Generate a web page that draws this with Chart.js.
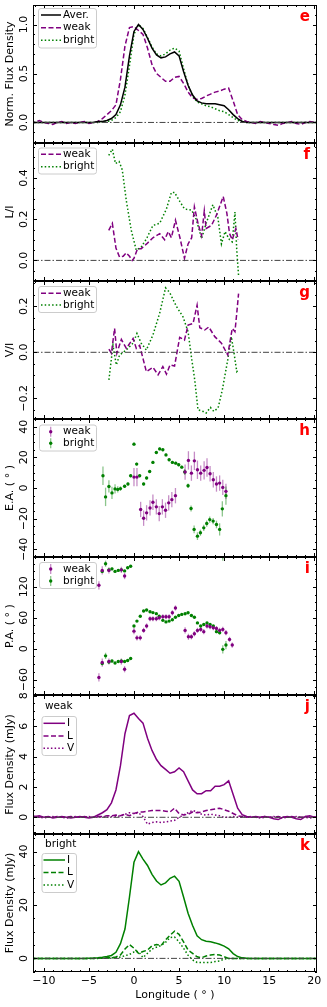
<!DOCTYPE html>
<html>
<head>
<meta charset="utf-8">
<title>Pulse profiles</title>
<script src="https://cdn.jsdelivr.net/npm/chart.js@4.4.1/dist/chart.umd.min.js"></script>
<style>
  body { margin: 0; background: #ffffff; }
  #wrap { position: relative; width: 327px; height: 1007px; overflow: hidden; }
  #wrap canvas { position: absolute; left: 0; }
</style>
</head>
<body>
<div id="wrap"></div>
<script>
// ---------------- DATA ----------------
// longitude grid (deg) for the profiles
const lonGrid = [
  -11.5, -11, -10.5, -10, -9.5, -9, -8.5, -8, -7.5, -7,
  -6.5, -6, -5.5, -5, -4.5, -4, -3.5, -3, -2.5, -2,
  -1.5, -1, -0.5, 0, 0.5, 1, 1.5, 2, 2.5, 3,
  3.5, 4, 4.5, 5, 5.5, 6, 6.5, 7, 7.5, 8,
  8.5, 9, 9.5, 10, 10.5, 11, 11.5, 12, 12.5, 13,
  13.5, 14, 14.5, 15, 15.5, 16, 16.5, 17, 17.5, 18,
  18.5, 19, 19.5, 20, 20.5
];

// panel e: normalised profiles
const normAver = [
  0, 0, 0, 0, 0, 0, 0, 0, 0, 0,
  0, 0, 0, 0, 0, 0.01, 0.01, 0.02, 0.04, 0.08,
  0.18, 0.36, 0.68, 0.93, 1.0, 0.95, 0.86, 0.76, 0.69, 0.66,
  0.67, 0.70, 0.72, 0.68, 0.52, 0.38, 0.28, 0.22, 0.20, 0.19,
  0.19, 0.19, 0.18, 0.17, 0.13, 0.08, 0.04, 0.01, 0, 0,
  0, 0, 0, 0, 0, 0, 0, 0, 0, 0,
  0, 0, 0, 0, 0
];
const normWeak = [
  0.01, 0.0, 0.02, 0.0, -0.01, -0.02, 0.0, 0.01, -0.01, 0.0,
  -0.01, 0.0, 0.01, -0.01, 0.0, 0.01, 0.04, 0.08, 0.12, 0.18,
  0.44, 0.78, 0.97, 0.98, 0.94, 0.90, 0.76, 0.59, 0.50, 0.46,
  0.42, 0.42, 0.46, 0.47, 0.40, 0.31, 0.25, 0.235, 0.245, 0.27,
  0.29, 0.31, 0.32, 0.34, 0.35, 0.22, 0.08, 0.03, 0.01, 0.0,
  -0.01, 0.01, 0.0, -0.01, -0.02, -0.03, -0.01, 0.0, 0.01, -0.01,
  -0.02, 0.0, 0.01, 0.0, 0.01
];
const normBright = [
  0, 0, 0, 0, 0, 0, 0, 0, 0, 0,
  0, 0, 0, 0, 0, 0, 0.01, 0.01, 0.02, 0.05,
  0.11, 0.28, 0.58, 0.90, 1.0, 0.96, 0.87, 0.77, 0.70, 0.68,
  0.70, 0.74, 0.76, 0.73, 0.55, 0.38, 0.27, 0.21, 0.19, 0.17,
  0.16, 0.14, 0.12, 0.11, 0.08, 0.05, 0.02, 0.01, 0, 0,
  0, 0, 0, 0, 0, 0, 0, 0, 0, 0,
  0, 0, 0, 0, 0
];

// panel f: L/I
const fWeakLon = [-2.8, -2.4, -2.0, -1.6, -1.2, -0.85, -0.5, -0.2, 0.0, 0.4, 0.8, 1.4, 2.1, 2.85, 3.4, 3.8, 4.15, 4.6, 5.1, 5.6, 6.0, 6.4, 6.7, 7.1, 7.5, 7.8, 8.0, 8.6, 9.15, 9.9, 10.3, 10.6, 10.9, 11.3, 11.55];
const fWeakVal = [0.146, 0.18, 0.06, 0.016, 0.02, 0.037, 0.02, 0.0, 0.01, 0.057, 0.057, 0.08, 0.11, 0.13, 0.10, 0.14, 0.11, 0.195, 0.11, 0.01, 0.08, 0.11, 0.26, 0.18, 0.12, 0.24, 0.155, 0.17, 0.22, 0.31, 0.23, 0.13, 0.10, 0.155, 0.10];
const fBrightLon = [-2.8, -2.4, -2.05, -1.65, -1.3, -0.85, -0.3, 0.25, 0.8, 1.4, 2.1, 2.85, 3.6, 4.15, 4.5, 5.1, 5.6, 6.4, 6.9, 7.5, 8.0, 8.75, 9.3, 9.7, 10.1, 10.6, 10.9, 11.2, 11.4, 11.6];
const fBrightVal = [0.51, 0.54, 0.47, 0.48, 0.44, 0.29, 0.146, 0.05, 0.065, 0.106, 0.17, 0.18, 0.25, 0.33, 0.33, 0.285, 0.25, 0.244, 0.20, 0.106, 0.18, 0.27, 0.21, 0.08, 0.14, 0.10, 0.09, 0.235, 0.05, -0.073];

// panel g: V/I
const gWeakLon = [-2.78, -2.5, -2.15, -1.9, -1.4, -0.85, -0.1, 0.26, 0.63, 1.37, 2.1, 2.67, 3.2, 3.6, 4.0, 4.5, 5.07, 5.6, 6.0, 6.55, 7.0, 7.3, 7.85, 8.3, 8.96, 9.7, 10.4, 10.9, 11.2, 11.4, 11.6];
const gWeakVal = [0.014, -0.004, 0.104, -0.004, 0.056, 0.017, 0.06, 0.017, 0.03, -0.084, -0.065, -0.098, -0.062, -0.095, -0.055, -0.06, 0.065, 0.053, 0.118, 0.125, 0.205, 0.107, 0.097, 0.11, 0.068, 0.04, -0.012, 0.104, 0.09, 0.17, 0.255];
const gBrightLon = [-2.78, -2.33, -1.96, -1.6, -0.85, -0.1, 0.33, 0.8, 1.37, 2.1, 2.85, 3.5, 3.96, 4.7, 5.44, 6.0, 6.37, 6.74, 7.1, 7.67, 8.0, 8.48, 8.85, 9.33, 9.8, 10.4, 10.8, 11.1, 11.4, 11.6];
const gBrightVal = [-0.12, 0.03, -0.055, -0.012, 0.01, 0.04, 0.082, 0.04, 0.01, 0.075, 0.17, 0.28, 0.26, 0.2, 0.154, 0.09, -0.02, -0.12, -0.25, -0.257, -0.264, -0.24, -0.257, -0.242, -0.163, -0.033, 0.068, -0.004, -0.084, -0.076];

// panel h: ellipticity angle (deg) with errors
const eaWeakLon = [0, 0.33, 0.74, 1.07, 1.4, 1.78, 2.1, 2.48, 2.8, 3.15, 3.5, 3.85, 4.2, 4.6, 5.67, 6.04, 6.37, 6.7, 7.04, 7.4, 7.78, 8.1, 8.44, 8.8, 9.15, 9.5, 9.85, 10.2];
const eaWeakVal = [7.1, 7.1, -14, -19.7, -16.2, -13, -9.3, -12.3, -16.7, -12.3, -14.5, -9.7, -7.6, -5, 10.4, 18, 9.7, 17.7, 11.9, 9.7, 11.5, 13.4, 9.3, 5.4, 2.6, 3.2, 0.4, -2.2];
const eaWeakErr = [6, 6, 5, 5, 5, 5, 5, 5, 5, 5, 5, 5, 5, 5, 5, 6, 5, 6, 6, 5, 6, 6, 5, 5, 5, 5, 5, 5];
const eaBrightLon = [-3.44, -3.15, -2.78, -2.44, -2.1, -1.8, -1.5, -1.04, -0.67, -0.37, 0, 0.3, 0.63, 1.07, 1.4, 1.74, 2.1, 2.48, 2.85, 3.2, 3.55, 3.9, 4.26, 4.63, 4.96, 5.3, 5.63, 6.0, 6.33, 6.67, 7.04, 7.37, 7.74, 8.07, 8.4, 8.78, 9.15, 9.5, 9.8, 10.2];
const eaBrightVal = [8, -5.8, 1, -3.2, -0.6, -0.9, -0.4, 1.1, 2.6, 8, 28.6, 15.6, 8, 2.6, 6.5, 10.8, 16.7, 23.2, 25.5, 24.9, 21.6, 18.4, 16.7, 16.2, 15.2, 13.6, 10.4, 1.5, -13.4, -27, -31.4, -29.2, -26, -23.2, -20.6, -21.6, -23.8, -27, -13.6, -5];
const eaBrightErr = [6, 6, 4, 4, 3, 2, 1.5, 1, 1, 1, 1, 1, 1, 1, 1, 1, 1, 1, 1, 1, 1, 1, 1, 1, 1, 1, 2, 1.5, 2, 2.5, 2.5, 2, 2, 2, 2, 2, 2.5, 4, 5, 6];

// panel i: position angle (deg) with errors, both branches as plotted
const paWeakLon = [-3.89, -3.52, -2.78, -1.4, -1.04, -3.89, -3.52, -2.78, -1.4, -1.04, 0, 0.33, 0.7, 1.07, 1.4, 1.78, 2.1, 2.48, 2.8, 3.2, 3.55, 3.9, 4.26, 4.6, 5.67, 6.04, 6.37, 6.7, 7.04, 7.4, 7.74, 8.1, 8.44, 8.8, 9.15, 9.5, 9.85, 10.2, 10.6, 10.9];
const paWeakVal = [-56, -27, -25, -25, -40, 123, 152, 152, 153, 141, 34, 21, 21, 35.5, 44, 58, 58, 58, 60, 62, 62, 62, 69.7, 79, 35.5, 23, 23, 29, 35.5, 37.4, 33, 44, 42.6, 40.6, 39, 35.5, 37.4, 31, 18, 7];
const paWeakErr = [8, 8, 6, 6, 6, 8, 8, 6, 6, 6, 6, 5, 5, 5, 5, 5, 5, 5, 5, 5, 5, 5, 5, 5, 6, 6, 5, 5, 5, 5, 5, 5, 5, 5, 5, 5, 5, 5, 5, 5];
const paBrightLon = [-3.52, -3.15, -2.78, -2.44, -2.1, -1.74, -1.4, -1.04, -0.7, -0.37, -3.52, -3.15, -2.78, -2.44, -2.1, -1.74, -1.4, -1.04, -0.7, -0.37, 0, 0.33, 0.7, 1.07, 1.4, 1.78, 2.1, 2.48, 2.8, 3.2, 3.55, 3.9, 4.26, 4.6, 4.96, 5.3, 5.67, 6.0, 6.37, 6.7, 7.04, 7.4, 7.74, 8.1, 8.44, 8.8, 9.15, 9.5, 9.85, 10.2, 9.85];
const paBrightVal = [-29, -14, -26, -24, -28, -25, -24, -25, -23, -19, 150, 165, 153, 155, 150, 152, 153, 151, 157, 160, 44, 53.5, 63, 73, 75, 71.6, 70, 68, 63, 55, 52, 53.5, 56, 61, 64.5, 66.5, 67.7, 69.7, 64.5, 61, 50, 44, 47, 50, 47, 44, 33, 31, -1.3, 7, 178.7];
const paBrightErr = [3, 6, 3, 3, 2, 2, 2, 2, 2, 2, 3, 6, 3, 3, 2, 2, 2, 2, 2, 2, 2, 1, 1, 1, 1, 1, 1, 1, 1, 1, 1, 1, 1, 1, 1, 1, 1, 1, 1, 1, 1, 1, 1, 1, 1, 1, 3, 3, 8, 8, 8];

// panel j: weak, flux density (mJy)
const weakI = [
  0.05, 0.05, 0.1, 0.0, 0.05, -0.05, 0.0, 0.05, 0.0, -0.05,
  0.0, 0.05, 0.0, -0.05, 0.0, 0.15, 0.3, 0.5, 0.95, 1.8,
  3.4, 5.5, 6.7, 6.85, 6.5, 6.2, 5.2, 4.4, 3.8, 3.4,
  3.15, 2.9, 3.0, 3.25, 3.0, 2.4, 1.8, 1.55, 1.55, 1.75,
  1.75, 2.05, 2.05, 2.15, 2.4, 1.5, 0.6, 0.17, 0.05, 0.0,
  0.05, 0.0, 0.05, 0.0, -0.1, -0.15, 0.0, 0.05, 0.0, -0.1,
  -0.15, 0.05, 0.1, 0.0, 0.05
];
const weakL = [
  0.0, 0.05, 0.0, 0.05, 0.0, 0.0, 0.05, 0.0, 0.0, 0.05,
  0.0, 0.0, 0.05, 0.0, 0.0, 0.05, 0.05, 0.1, 0.1, 0.15,
  0.1, 0.2, 0.1, 0.25, 0.35, 0.35, 0.4, 0.45, 0.45, 0.45,
  0.4, 0.35, 0.6, 0.25, 0.15, 0.2, 0.35, 0.3, 0.35, 0.45,
  0.5, 0.55, 0.6, 0.5, 0.4, 0.25, 0.1, 0.05, 0.0, 0.05,
  0.0, 0.0, 0.05, 0.0, 0.0, 0.05, 0.0, 0.0, 0.05, 0.0,
  0.0, 0.05, 0.0, 0.0, 0.05
];
const weakV = [
  0.0, 0.05, 0.0, -0.05, 0.0, 0.05, 0.0, 0.0, -0.05, 0.0,
  0.05, 0.0, 0.0, 0.05, 0.0, 0.0, 0.05, 0.0, 0.05, 0.05,
  0.1, 0.2, 0.3, 0.25, 0.3, 0.05, -0.45, -0.35, -0.3, -0.35,
  -0.3, -0.25, -0.2, 0.0, 0.15, 0.3, 0.45, 0.35, 0.2, 0.15,
  0.2, 0.15, 0.1, 0.0, 0.0, 0.05, 0.0, 0.0, 0.05, 0.0,
  0.0, -0.05, 0.0, 0.0, 0.05, 0.0, -0.05, 0.0, 0.0, 0.05,
  0.0, 0.0, -0.05, 0.0, 0.0
];

// panel k: bright, flux density (mJy)
const brightI = [
  0, 0, 0, 0, 0, 0, 0, 0, 0, 0,
  0, 0, 0, 0.05, 0.1, 0.2, 0.4, 0.7, 1.1, 2.3,
  5.5, 11, 23, 36, 40, 37.2, 34.8, 31.5, 29, 27.5,
  28.3, 30, 30.8, 28.9, 23, 16.9, 12.3, 8.5, 7, 6.4,
  6.2, 5.8, 5.3, 4.6, 3.6, 1.8, 0.7, 0.2, 0.05, 0,
  0, 0, 0, 0, 0, 0, 0, 0, 0, 0,
  0, 0, 0, 0, 0
];
const brightL = [
  0, 0, 0, 0, 0, 0, 0, 0, 0, 0,
  0, 0, 0, 0, 0, 0.05, 0.1, 0.2, 0.3, 0.5,
  1.3, 3.5, 5.2, 3.8, 1.9, 2.6, 3.1, 4.7, 5.2, 4.8,
  6.9, 8.7, 10.2, 9.0, 6.2, 3.1, 1.9, 0.6, 0.25, 0.9,
  1.25, 1.5, 1.25, 0.6, 0.0, 0.0, 0, 0, 0, 0,
  0, 0, 0, 0, 0, 0, 0, 0, 0, 0,
  0, 0, 0, 0, 0
];
const brightV = [
  0, 0, 0, 0, 0, 0, 0, 0, 0, 0,
  0, 0, 0, 0, 0, 0, 0.05, 0.1, 0.2, 0.3,
  0.5, 1.0, 1.5, 2.4, 2.6, 0.3, 1.9, 3.5, 4.2, 4.8,
  6.0, 7.8, 8.0, 6.2, 3.8, 1.2, -0.6, -1.5, -1.6, -1.5,
  -1.5, -1.2, -1.0, -0.25, 0.0, 0, 0, 0, 0, 0,
  0, 0, 0, 0, 0, 0, 0, 0, 0, 0,
  0, 0, 0, 0, 0
];

// axis limits and ticks
const xMin = -11.2, xMax = 20.3;
const xTicks = [-10, -5, 0, 5, 10, 15, 20];
const xMinorStep = 1;

// ---------------- STYLE ----------------
const FONT = 'DejaVu Sans';
const PURPLE = '#800080';
const GREEN = '#008000';
const PURPLE_ERR = 'rgba(128, 0, 128, 0.45)';
const GREEN_ERR = 'rgba(0, 128, 0, 0.45)';
const LW = 1.5;
const DASH = [5, 2.5];
const DOT = [1.5, 2.2];
const DASHDOT = [6, 2, 1.5, 2];
const PAD = 10;

const pts = (xs, ys) => xs.map((x, i) => ({ x: x, y: ys[i] }));

function line(xs, ys, color, dash) {
  return { data: pts(xs, ys), borderColor: color, borderWidth: LW, borderDash: dash,
           pointRadius: 0, fill: false, tension: 0 };
}
function dots(xs, ys, errs, color, errColor) {
  return { data: pts(xs, ys), showLine: false, pointRadius: 1.7, pointBackgroundColor: color,
           pointBorderWidth: 0, errors: errs, errColor: errColor };
}
function zeroLine() {
  return { data: [{ x: xMin, y: 0 }, { x: xMax, y: 0 }], borderColor: '#444',
           borderWidth: 1, borderDash: DASHDOT, pointRadius: 0 };
}

// ---------------- PANELS ----------------
const panels = [
  { letter: 'e', top: 5, bottom: 143, yMin: -0.21, yMax: 1.2, yTicks: [0, 0.5, 1], yMinor: 0.1, yLabels: ['0.0', '0.5', '1.0'],
    yTitle: 'Norm. Flux Density',
    datasets: [zeroLine(), line(lonGrid, normAver, '#000', []), line(lonGrid, normWeak, PURPLE, DASH), line(lonGrid, normBright, GREEN, DOT)],
    legend: { box: [38, 8, 58, 39.5], lineX: [41, 61], textX: 63, items: [
      { label: 'Aver.', color: '#000', dash: [], y: 15 },
      { label: 'weak', color: PURPLE, dash: DASH, y: 27.7 },
      { label: 'bright', color: GREEN, dash: DOT, y: 40.3 }] } },
  { letter: 'f', top: 143, bottom: 281, yMin: -0.10, yMax: 0.57, yTicks: [0, 0.2, 0.4], yMinor: 0.05, yLabels: ['0.0', '0.2', '0.4'],
    yTitle: 'L/I',
    datasets: [zeroLine(), line(fWeakLon, fWeakVal, PURPLE, DASH), line(fBrightLon, fBrightVal, GREEN, DOT)],
    legend: { box: [38, 147.5, 58, 26], lineX: [41, 61], textX: 63, items: [
      { label: 'weak', color: PURPLE, dash: DASH, y: 154.3 },
      { label: 'bright', color: GREEN, dash: DOT, y: 166.7 }] } },
  { letter: 'g', top: 281, bottom: 419, yMin: -0.29, yMax: 0.31, yTicks: [-0.2, 0, 0.2], yMinor: 0.05, yLabels: ['\u22120.2', '0.0', '0.2'],
    yTitle: 'V/I',
    datasets: [zeroLine(), line(gWeakLon, gWeakVal, PURPLE, DASH), line(gBrightLon, gBrightVal, GREEN, DOT)],
    legend: { box: [38, 286, 58, 26], lineX: [41, 61], textX: 63, items: [
      { label: 'weak', color: PURPLE, dash: DASH, y: 293.3 },
      { label: 'bright', color: GREEN, dash: DOT, y: 305 }] } },
  { letter: 'h', top: 419, bottom: 557, yMin: -45, yMax: 45, yTicks: [-40, -20, 0, 20, 40], yMinor: 5, yLabels: ['\u221240', '\u221220', '0', '20', '40'],
    yTitle: 'E.A. ( \u00b0 )',
    datasets: [dots(eaWeakLon, eaWeakVal, eaWeakErr, PURPLE, PURPLE_ERR), dots(eaBrightLon, eaBrightVal, eaBrightErr, GREEN, GREEN_ERR)],
    legend: { box: [39, 424.5, 57, 26], markX: 50.7, textX: 63, items: [
      { label: 'weak', color: PURPLE, err: PURPLE_ERR, y: 431.7 },
      { label: 'bright', color: GREEN, err: GREEN_ERR, y: 443.3 }] } },
  { letter: 'i', top: 557, bottom: 695, yMin: -90, yMax: 178, yTicks: [-60, 0, 60, 120], yMinor: 15, yLabels: ['\u221260', '0', '60', '120'],
    yTitle: 'P.A. ( \u00b0 )',
    datasets: [dots(paWeakLon, paWeakVal, paWeakErr, PURPLE, PURPLE_ERR), dots(paBrightLon, paBrightVal, paBrightErr, GREEN, GREEN_ERR)],
    legend: { box: [39, 562, 57, 26], markX: 50.7, textX: 63, items: [
      { label: 'weak', color: PURPLE, err: PURPLE_ERR, y: 569 },
      { label: 'bright', color: GREEN, err: GREEN_ERR, y: 581 }] } },
  { letter: 'j', top: 695, bottom: 834, yMin: -1.1, yMax: 8.05, yTicks: [0, 2, 4, 6, 8], yMinor: 0.5, yLabels: ['0', '2', '4', '6', '8'],
    yTitle: 'Flux Density (mJy)',
    datasets: [zeroLine(), line(lonGrid, weakI, PURPLE, []), line(lonGrid, weakL, PURPLE, DASH), line(lonGrid, weakV, PURPLE, DOT)],
    legend: { header: 'weak', headerX: 45, headerY: 706, box: [41.5, 716, 34.5, 39], lineX: [43.5, 65], textX: 67, items: [
      { label: 'I', color: PURPLE, dash: [], y: 723.3 },
      { label: 'L', color: PURPLE, dash: DASH, y: 736 },
      { label: 'V', color: PURPLE, dash: DOT, y: 748.3 }] } },
  { letter: 'k', top: 834, bottom: 972, yMin: -5.1, yMax: 46.6, yTicks: [0, 20, 40], yMinor: 5, yLabels: ['0', '20', '40'],
    yTitle: 'Flux Density (mJy)', last: true,
    datasets: [zeroLine(), line(lonGrid, brightI, GREEN, []), line(lonGrid, brightL, GREEN, DASH), line(lonGrid, brightV, GREEN, DOT)],
    legend: { header: 'bright', headerX: 45, headerY: 844, box: [41.5, 853, 34.5, 39], lineX: [43.5, 65], textX: 67, items: [
      { label: 'I', color: GREEN, dash: [], y: 860 },
      { label: 'L', color: GREEN, dash: DASH, y: 872.5 },
      { label: 'V', color: GREEN, dash: DOT, y: 885 }] } }
];

function roundRect(ctx, x, y, w, h, r) {
  ctx.beginPath();
  ctx.moveTo(x + r, y);
  ctx.lineTo(x + w - r, y);
  ctx.quadraticCurveTo(x + w, y, x + w, y + r);
  ctx.lineTo(x + w, y + h - r);
  ctx.quadraticCurveTo(x + w, y + h, x + w - r, y + h);
  ctx.lineTo(x + r, y + h);
  ctx.quadraticCurveTo(x, y + h, x, y + h - r);
  ctx.lineTo(x, y + r);
  ctx.quadraticCurveTo(x, y, x + r, y);
  ctx.closePath();
}

function drawLegend(ctx, lg) {
  ctx.textAlign = 'left';
  ctx.textBaseline = 'middle';
  ctx.font = '10.5px "' + FONT + '"';
  if (lg.header) {
    ctx.fillStyle = '#000';
    ctx.fillText(lg.header, lg.headerX, lg.headerY);
  }
  const b = lg.box;
  roundRect(ctx, b[0] + 0.5, b[1] + 0.5, b[2], b[3], 2.5);
  ctx.fillStyle = 'rgba(255,255,255,0.8)';
  ctx.fill();
  ctx.strokeStyle = '#cccccc';
  ctx.lineWidth = 1;
  ctx.stroke();
  lg.items.forEach(it => {
    if (it.err) {
      ctx.setLineDash([]);
      ctx.strokeStyle = it.err;
      ctx.lineWidth = 1.3;
      ctx.beginPath();
      ctx.moveTo(lg.markX, it.y - 5);
      ctx.lineTo(lg.markX, it.y + 5);
      ctx.stroke();
      ctx.fillStyle = it.color;
      ctx.beginPath();
      ctx.arc(lg.markX, it.y, 1.7, 0, Math.PI * 2);
      ctx.fill();
    } else {
      ctx.setLineDash(it.dash);
      ctx.strokeStyle = it.color;
      ctx.lineWidth = LW;
      ctx.beginPath();
      ctx.moveTo(lg.lineX[0], it.y);
      ctx.lineTo(lg.lineX[1], it.y);
      ctx.stroke();
      ctx.setLineDash([]);
    }
    ctx.fillStyle = '#000';
    ctx.fillText(it.label, lg.textX, it.y);
  });
}

// tick values between min and max on a regular step (axis decoration only)
function minorValues(min, max, step) {
  const out = [];
  for (let n = Math.ceil(min / step - 1e-9); n * step <= max + 1e-9; n++) out.push(n * step);
  return out;
}

// error bars, frame, inward ticks, rotated y labels, legend and panel letter
function makeDecor(p) {
  return {
    id: 'decor',
    beforeDatasetsDraw(chart) {
      const ctx = chart.ctx, a = chart.chartArea;
      const xs = chart.scales.x, ys = chart.scales.y;
      ctx.save();
      ctx.beginPath();
      ctx.rect(a.left, a.top, a.right - a.left, a.bottom - a.top);
      ctx.clip();
      chart.data.datasets.forEach(ds => {
        if (!ds.errors) return;
        ctx.strokeStyle = ds.errColor;
        ctx.lineWidth = 1.3;
        ds.data.forEach((d, i) => {
          const px = xs.getPixelForValue(d.x);
          ctx.beginPath();
          ctx.moveTo(px, ys.getPixelForValue(d.y - ds.errors[i]));
          ctx.lineTo(px, ys.getPixelForValue(d.y + ds.errors[i]));
          ctx.stroke();
        });
      });
      ctx.restore();
    },
    afterDraw(chart) {
      const ctx = chart.ctx, a = chart.chartArea;
      const xs = chart.scales.x, ys = chart.scales.y;
      ctx.save();
      ctx.setLineDash([]);
      ctx.strokeStyle = '#000';
      ctx.lineWidth = 1;
      ctx.strokeRect(a.left + 0.5, a.top + 0.5, a.right - a.left - 1, a.bottom - a.top - 1);

      const xTick = (v, len) => {
        const px = Math.round(xs.getPixelForValue(v)) + 0.5;
        ctx.moveTo(px, a.top); ctx.lineTo(px, a.top + len);
        ctx.moveTo(px, a.bottom); ctx.lineTo(px, a.bottom - len);
      };
      const yTick = (v, len) => {
        const py = Math.round(ys.getPixelForValue(v)) + 0.5;
        ctx.moveTo(a.left, py); ctx.lineTo(a.left + len, py);
        ctx.moveTo(a.right, py); ctx.lineTo(a.right - len, py);
      };
      ctx.beginPath();
      xTicks.forEach(v => xTick(v, 4));
      p.yTicks.forEach(v => yTick(v, 4));
      ctx.stroke();
      ctx.beginPath();
      minorValues(xMin, xMax, xMinorStep).forEach(v => xTick(v, 2));
      minorValues(p.yMin, p.yMax, p.yMinor).forEach(v => yTick(v, 2));
      ctx.stroke();

      // rotated y tick labels
      ctx.fillStyle = '#000';
      ctx.font = '11px "' + FONT + '"';
      ctx.textAlign = 'center';
      ctx.textBaseline = 'middle';
      p.yTicks.forEach((v, i) => {
        ctx.save();
        ctx.translate(24, ys.getPixelForValue(v));
        ctx.rotate(-Math.PI / 2);
        ctx.fillText(p.yLabels[i], 0, 0);
        ctx.restore();
      });

      // page coordinates from here on
      ctx.translate(0, -(p.top - PAD));
      drawLegend(ctx, p.legend);
      ctx.fillStyle = '#ff0000';
      ctx.font = 'bold 15px "' + FONT + '"';
      ctx.textAlign = 'right';
      ctx.textBaseline = 'alphabetic';
      ctx.fillText(p.letter, 310, p.top + 16);
      ctx.restore();
    }
  };
}

const wrap = document.getElementById('wrap');

panels.forEach(p => {
  const canvas = document.createElement('canvas');
  const canvasTop = p.top - PAD;
  const height = p.last ? 1007 - canvasTop : (p.bottom - p.top) + 2 * PAD;
  canvas.width = 327;
  canvas.height = height;
  canvas.style.width = '327px';
  canvas.style.height = height + 'px';
  canvas.style.top = canvasTop + 'px';
  wrap.appendChild(canvas);

  const xScale = {
    type: 'linear',
    min: xMin,
    max: xMax,
    display: !!p.last,
    grid: { display: false, drawTicks: false },
    border: { display: false },
    ticks: {
      stepSize: 5,
      includeBounds: false,
      autoSkip: false,
      maxRotation: 0,
      padding: 3,
      color: '#000',
      font: { family: FONT, size: 11 },
      callback: v => (v < 0 ? '\u2212' + Math.abs(v) : String(v))
    },
    title: { display: true, text: 'Longitude ( \u00b0 )', color: '#000',
             font: { family: FONT, size: 11 }, padding: { top: 0, bottom: 5 } }
  };
  // only the bottom panel keeps room for the x axis
  if (p.last) xScale.afterFit = s => { s.height = 35; };

  new Chart(canvas, {
    type: 'line',
    data: { datasets: p.datasets },
    options: {
      responsive: false,
      animation: false,
      devicePixelRatio: 1,
      events: [],
      layout: { padding: { top: PAD, bottom: p.last ? 0 : PAD, left: 0, right: 10 } },
      plugins: { legend: { display: false }, tooltip: { enabled: false } },
      scales: {
        x: xScale,
        y: {
          type: 'linear',
          min: p.yMin,
          max: p.yMax,
          grid: { display: false, drawTicks: false },
          border: { display: false },
          ticks: { display: false },
          title: { display: true, text: p.yTitle, color: '#000',
                   font: { family: FONT, size: 11 }, padding: { top: 4, bottom: 0 } },
          afterFit: s => { s.width = 33; }
        }
      }
    },
    plugins: [makeDecor(p)]
  });
});
</script>
</body>
</html>
